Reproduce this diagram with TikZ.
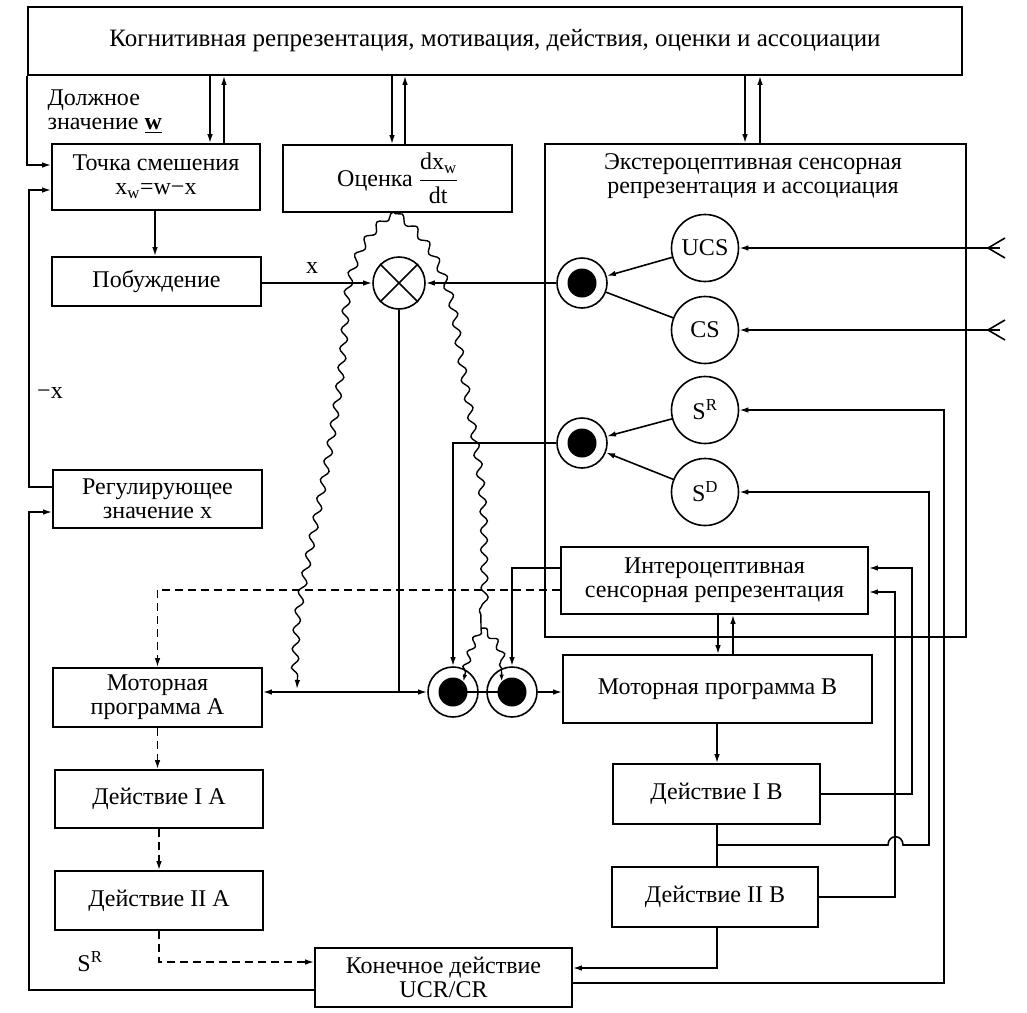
\documentclass[tikz,border=0pt]{standalone}
\usepackage{amsmath}
\usepackage{fontspec}
\setmainfont{Liberation Serif}
\usetikzlibrary{arrows.meta,decorations.pathmorphing,calc}
\begin{document}
\begin{tikzpicture}[x=1pt,y=-1pt,
  font=\fontsize{24}{24}\selectfont,
  box/.style={draw, line width=1.6pt, inner sep=0pt, align=center, rectangle},
  ln/.style={line width=1.6pt},
  arr/.style={line width=1.6pt, -{Latex[length=9pt,width=5.5pt]}},
  dsh/.style={dash pattern=on 8pt off 5pt},
  circ/.style={draw, circle, line width=1.6pt, minimum size=67pt, inner sep=0pt},
  jout/.style={draw, circle, line width=1.6pt, minimum size=50pt, inner sep=0pt},
  jin/.style={circle, fill=black, minimum size=29pt, inner sep=0pt},
  wave/.style={line width=1.4pt, decorate, decoration={snake, segment length=19pt, amplitude=3.5pt, pre length=3pt, post length=8pt}},
  swave/.style={line width=1.4pt, decorate, decoration={snake, segment length=15pt, amplitude=3pt, post length=6pt}, -{Latex[length=7pt,width=4.5pt]}},
]
\useasboundingbox (0,0) rectangle (1027,1012);

% boxes
\node[box, minimum width=934pt, minimum height=68pt, font=\fontsize{25}{25}\selectfont] (cog) at (495,41) {Когнитивная репрезентация, мотивация, действия, оценки и ассоциации};
\node[box, minimum width=208pt, minimum height=66pt] (tochka) at (156,177) {Точка смешения\\x\textsubscript{w}=w−x};
\node[box, minimum width=209pt, minimum height=49pt] (pob) at (156.5,281.5) {Побуждение};
\node[box, minimum width=229pt, minimum height=67pt] (otsenka) at (397.5,178.5) {Оценка $\dfrac{\text{dx}_\text{w}}{\text{dt}}$};
\node[box, minimum width=209pt, minimum height=58pt] (reg) at (157.5,499) {Регулирующее\\значение x};
\node[box, minimum width=209pt, minimum height=59pt] (motA) at (157.5,697.5) {Моторная\\программа А};
\node[box, minimum width=208pt, minimum height=58pt] (d1A) at (159,799) {Действие I А};
\node[box, minimum width=208pt, minimum height=59pt] (d2A) at (159,900.5) {Действие II А};
\node[box, minimum width=257pt, minimum height=59pt] (fin) at (443.5,977.5) {Конечное действие\\UCR/CR};
\node[box, minimum width=421pt, minimum height=493pt] (ext) at (755.5,390.5) {};
\node[align=center] (exttxt) at (753,176) {Экстероцептивная сенсорная\\репрезентация и ассоциация};
\node[box, minimum width=307pt, minimum height=67pt] (intero) at (714.5,580.5) {Интероцептивная\\сенсорная репрезентация};
\node[box, minimum width=309pt, minimum height=68pt] (motB) at (717.5,689) {Моторная программа В};
\node[box, minimum width=207pt, minimum height=60pt] (d1B) at (716.5,794) {Действие I В};
\node[box, minimum width=206pt, minimum height=60pt] (d2B) at (715,897) {Действие II В};

% labels
\node[align=left, anchor=west] (dolzh) at (44,112) {Должное\\значение \underline{\textbf{w}}};
\node (lmx) at (50,393) {−x};
\node (lx) at (312,268) {x};
\node (lsr) at (90,962) {S\textsuperscript{R}};

% circles
\node[circ] (ucs) at (705,248) {UCS};
\node[circ] (cs) at (705,330) {CS};
\node[circ] (sr) at (705,410) {S\textsuperscript{R}};
\node[circ] (sd) at (705,492) {S\textsuperscript{D}};
\node[jout] (j1) at (582,283) {};
\node[jin] (j1i) at (582,283) {};
\node[jout] (j2) at (582,443) {};
\node[jin] (j2i) at (582,443) {};
\node[draw, circle, line width=1.6pt, minimum size=52pt, inner sep=0pt] (cross) at (399,283) {};
\draw[ln] (cross.45) -- (cross.225) (cross.135) -- (cross.315);

\node[jout] (m1) at (453,692) {};
\node[jout] (m2) at (512,692) {};
\draw[ln] (m1.center) -- (m2.center);
\node[jin] (m1i) at (453,692) {};
\node[jin] (m2i) at (512,692) {};

% cog connections
\draw[arr] (cog.south -| 210,0) -- (tochka.north -| 210,0);
\draw[arr] (tochka.north -| 224,0) -- (cog.south -| 224,0);
\draw[arr] (cog.south -| 392,0) -- (otsenka.north -| 392,0);
\draw[arr] (otsenka.north -| 405,0) -- (cog.south -| 405,0);
\draw[arr] (cog.south -| 745,0) -- (ext.north -| 745,0);
\draw[arr] (ext.north -| 760,0) -- (cog.south -| 760,0);
\draw[arr] (cog.south west) |- (tochka.west |- 0,165);

% left loop
\draw[arr] (reg.west |- 0,487) -| (29,190) -- (tochka.west |- 0,190);
\draw[arr] (fin.west |- 0,990) -| (29,512) -- (reg.west |- 0,512);
\draw[arr] (tochka.south -| 155,0) -- (pob.north -| 155,0);
\draw[arr] (pob.east |- cross.west) -- (cross.west);

% sensory
\coordinate (inU) at (1000,248);
\coordinate (inC) at (1000,330);
\draw[ln] (1005,238) -- (988,248) -- (1005,258);
\draw[ln] (1005,320) -- (988,330) -- (1005,340);
\draw[arr] (inU) -- (ucs.east);
\draw[arr] (inC) -- (cs.east);
\draw[arr] (ucs) -- (j1);
\draw[ln] (cs) -- (j1);
\draw[arr] (sr) -- (j2);
\draw[arr] (sd) -- (j2);
\draw[arr] (j1.west) -- (cross.east);
\draw[arr] (j2.west) -| (m1.north);

% motor junction
\draw[ln] (cross.south) -- (cross.south |- 0,692) coordinate (spl);
\draw[arr] (spl) -- (motA.east |- spl);
\draw[arr] (spl) -- (m1.west);
\draw[arr] (m2.east) -- (motB.west |- m2.east);
\draw[arr] (intero.west |- 0,568) -| (m2.north);
\draw[arr, dsh] (intero.west |- 0,590) -| (motA.north);

% left column
\draw[arr, dsh] (motA.south) -- (motA.south |- d1A.north);
\draw[arr, dsh] (d1A.south) -- (d1A.south |- d2A.north);
\draw[arr, dsh] (d2A.south) |- (fin.west |- 0,962);

% right column
\draw[arr] (intero.south -| 718,0) -- (motB.north -| 718,0);
\draw[arr] (motB.north -| 733,0) -- (intero.south -| 733,0);
\draw[arr] (motB.south -| 717,0) -- (d1B.north -| 717,0);
\draw[ln] (d1B.south -| 717,0) -- (d2B.north -| 717,0);
\draw[arr] (d1B.south |- 0,845) -- (888,845) .. controls (888,834) and (903,834) .. (903,845) -- (929,845) -- (929,492) -- (sd.east);
\draw[arr] (d1B.east) -| (912,568) -- (intero.east |- 0,568);
\draw[arr] (d2B.east) -| (895,592) -- (intero.east |- 0,592);
\draw[arr] (d2B.south -| 717,0) |- (fin.east |- 0,968);
\draw[arr] (fin.east |- 0,983) -| (944,410) -- (sr.east);

% wavy lines
\coordinate (wtop) at (393,212);
\coordinate (wsplit) at (481,628);
\draw[wave, -{Latex[length=9pt,width=5.5pt]}] (wtop) .. controls (360,240) and (352,270) .. (349,310) .. controls (345,420) and (312,540) .. (300,620) -- (297,689);
\draw[wave] (wtop) .. controls (425,232) and (445,275) .. (452,320) .. controls (462,400) and (482,470) .. (480,540) -- (wsplit);
\draw[swave] (wsplit) .. controls (472,645) and (468,660) .. (m1i.north east);
\draw[swave] (wsplit) .. controls (498,640) and (502,655) .. (m2i.north west);
\end{tikzpicture}
\end{document}
